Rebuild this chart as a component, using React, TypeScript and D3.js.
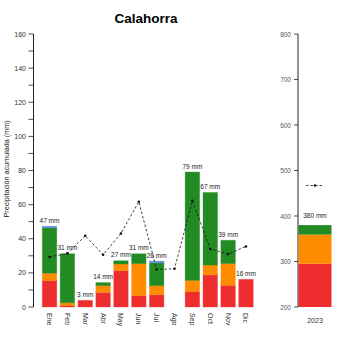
import React from "react";
import * as d3 from "d3";

const months = ["Ene", "Feb", "Mar", "Abr", "May", "Jun", "Jul", "Ago", "Sep", "Oct", "Nov", "Dic"];
const redVals = [15.5, 0.8, 3.9, 8.5, 21.3, 6.6, 7.2, 0, 9.1, 18.9, 12.7, 16.2];
const orangeVals = [4.3, 1.7, 0, 4.0, 3.9, 18.8, 5.3, 0, 6.5, 5.7, 12.8, 0];
const greenVals = [26.5, 28.7, 0, 1.8, 1.9, 5.8, 13.4, 0, 63.5, 42.5, 13.6, 0];
const blueVals = [1.0, 0, 0, 0, 0, 0, 1.0, 0, 0, 0, 0, 0];
const normalVals = [29.3, 31.4, 41.8, 30.6, 43.1, 61.7, 22.0, 22.4, 62.3, 34.0, 31.0, 35.5];

const yearLabel = ["2023"];
const yearRed = [295];
const yearOrange = [64];
const yearGreen = [21];
const yearBlue = [0];
const yearNormal = [467];

const leftTicks = [0, 10, 20, 30, 40, 50, 60, 70, 80, 90, 100, 110, 120, 130, 140, 150, 160];
const rightTicks = [200, 300, 400, 500, 600, 700, 800];

const keys = ["red", "orange", "green", "blue"];
const colors: Record<string, string> = {
  red: "#EE2E2E",
  orange: "#FF8C00",
  green: "#238B23",
  blue: "#5B8FD6",
};

const FONT = "'Liberation Sans', Arial, sans-serif";

export default function App() {
  const top = 34;
  const bottom = 307;
  const y = d3.scaleLinear().domain([0, 160]).range([bottom, top]);
  const x = d3.scaleBand<string>().domain(months).range([40.6, 254.9]).paddingInner(0.19).paddingOuter(0.095);

  const rows = months.map((m, i) => ({
    m,
    red: redVals[i],
    orange: orangeVals[i],
    green: greenVals[i],
    blue: blueVals[i],
  }));
  const series = d3.stack<any>().keys(keys)(rows);
  const totals = rows.map((r) => r.red + r.orange + r.green + r.blue);

  const line = d3
    .line<number>()
    .x((_, i) => (x(months[i]) as number) + x.bandwidth() / 2)
    .y((d) => y(d));

  const yR = d3.scaleLinear().domain([200, 800]).range([bottom, top]).clamp(true);
  const xR = d3.scaleBand<string>().domain(yearLabel).range([298.5, 331.5]).padding(0);
  const yrRows = yearLabel.map((m, i) => ({
    m,
    red: yearRed[i],
    orange: yearOrange[i],
    green: yearGreen[i],
    blue: yearBlue[i],
  }));
  const yrTotals = yrRows.map((r) => r.red + r.orange + r.green + r.blue);
  const yrSeries = d3.stack<any>().keys(keys)(yrRows);

  return (
    <svg width={350} height={350} style={{ position: "absolute", left: 0, top: 0, background: "#fff" }} fontFamily={FONT}>
      <text x={146} y={23} textAnchor="middle" fontSize={13.5} fontWeight="bold" fill="#000">
        Calahorra
      </text>
      <text
        transform={`translate(9,169) rotate(-90)`}
        textAnchor="middle"
        fontSize={7.2}
        fill="#222"
      >
        Precipitación acumulada (mm)
      </text>

      {/* left axis */}
      <line x1={33.5} x2={33.5} y1={y(160)} y2={y(0)} stroke="#222" strokeWidth={1} />
      {leftTicks.map((t) => (
        <g key={t}>
          <line x1={28.5} x2={33.5} y1={y(t)} y2={y(t)} stroke="#222" strokeWidth={0.8} />
          {t % 20 === 0 && (
            <text x={26} y={y(t) + 2.5} textAnchor="end" fontSize={7} fill="#333">
              {t}
            </text>
          )}
        </g>
      ))}

      {/* bars */}
      {series.map((s) => (
        <g key={s.key}>
          {s.map((d, i) =>
            d[1] - d[0] > 0 ? (
              <rect
                key={i}
                x={x(months[i]) as number}
                y={y(d[1])}
                width={x.bandwidth()}
                height={y(d[0]) - y(d[1])}
                fill={colors[s.key]}
                stroke={colors[s.key]}
                strokeOpacity={0.35}
                strokeWidth={1}
              />
            ) : null
          )}
        </g>
      ))}

      {/* bar labels */}
      {totals.map((t, i) =>
        t > 0 ? (
          <text
            key={i}
            x={(x(months[i]) as number) + x.bandwidth() / 2}
            y={y(t) - 3.5}
            textAnchor="middle"
            fontSize={6.5}
            fill="#222"
          >
            {Math.floor(t)} mm
          </text>
        ) : null
      )}

      {/* normal line */}
      <path d={line(normalVals) || ""} fill="none" stroke="#111" strokeWidth={0.8} strokeDasharray="2.5,2" />
      {normalVals.map((v, i) => (
        <circle key={i} cx={(x(months[i]) as number) + x.bandwidth() / 2} cy={y(v)} r={1.3} fill="#111" />
      ))}

      {/* month labels */}
      {months.map((m) => (
        <text
          key={m}
          transform={`translate(${(x(m) as number) + x.bandwidth() / 2 - 2.5},${313}) rotate(90)`}
          textAnchor="start"
          fontSize={7}
          fill="#333"
        >
          {m}
        </text>
      ))}

      {/* right panel */}
      <line x1={298} x2={298} y1={yR(800)} y2={yR(200)} stroke="#222" strokeWidth={1} />
      {rightTicks.map((t) => (
        <g key={t}>
          <line x1={294} x2={298} y1={yR(t)} y2={yR(t)} stroke="#222" strokeWidth={0.8} />
          <text x={291} y={yR(t) + 2.5} textAnchor="end" fontSize={6.5} fill="#555">
            {t}
          </text>
        </g>
      ))}
      {yrSeries.map((s) => (
        <g key={s.key}>
          {s.map((d, i) =>
            d[1] - d[0] > 0 ? (
              <rect
                key={i}
                x={xR(yearLabel[i]) as number}
                y={yR(d[1])}
                width={xR.bandwidth()}
                height={yR(d[0]) - yR(d[1])}
                fill={colors[s.key]}
              />
            ) : null
          )}
        </g>
      ))}
      {yrTotals.map((t, i) => (
        <text key={i} x={(xR(yearLabel[i]) as number) + xR.bandwidth() / 2} y={yR(t) - 7} textAnchor="middle" fontSize={6.5} fill="#222">
          {Math.floor(t)} mm
        </text>
      ))}
      {yearNormal.map((v, i) => {
        const cx = (xR(yearLabel[i]) as number) + xR.bandwidth() / 2;
        return (
          <g key={i}>
            <line x1={cx - 9} x2={cx + 9} y1={yR(v)} y2={yR(v)} stroke="#111" strokeWidth={0.8} strokeDasharray="2.5,2" />
            <circle cx={cx} cy={yR(v)} r={1.3} fill="#111" />
          </g>
        );
      })}
      {yearLabel.map((l) => (
        <text key={l} x={(xR(l) as number) + xR.bandwidth() / 2} y={323} textAnchor="middle" fontSize={7} fill="#333">
          {l}
        </text>
      ))}
    </svg>
  );
}
